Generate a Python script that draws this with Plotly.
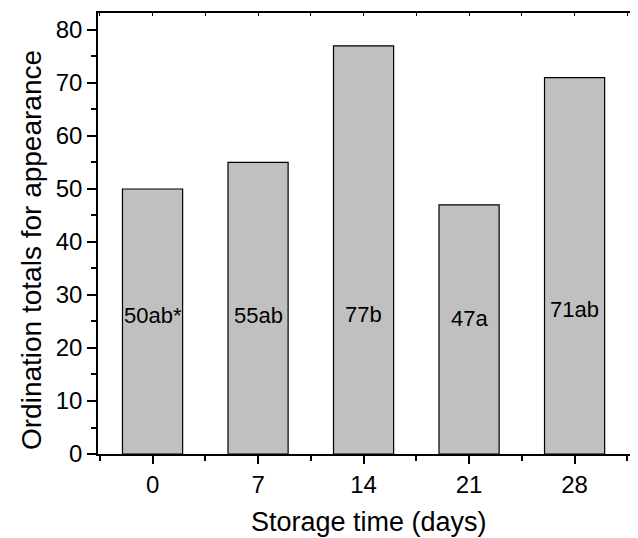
import plotly.graph_objects as go

categories = ["0", "7", "14", "21", "28"]
values = [50, 55, 77, 47, 71]
bar_labels = ["50ab*", "55ab", "77b", "47a", "71ab"]
label_levels = [26.2, 26.2, 26.4, 25.6, 27.2]
y_ticks = [0, 10, 20, 30, 40, 50, 60, 70, 80]

FONT = "Liberation Sans, Arial, sans-serif"
xpos = list(range(len(categories)))

fig = go.Figure()
fig.add_trace(go.Bar(
    x=xpos, y=values, width=0.57,
    marker=dict(color="#C0C0C0", line=dict(color="black", width=1.2)),
    showlegend=False, hoverinfo="skip",
))

for xi, lab, lv in zip(xpos, bar_labels, label_levels):
    fig.add_annotation(x=xi, y=lv, text=lab, showarrow=False,
                       font=dict(family=FONT, size=22, color="black"),
                       xanchor="center", yanchor="middle")

fig.add_annotation(xref="paper", yref="paper", x=-66/540, y=0.4626,
                   text="Ordination totals for appearance", textangle=-90,
                   showarrow=False, font=dict(family=FONT, size=28, color="black"),
                   xanchor="center", yanchor="middle")
fig.add_annotation(xref="paper", yref="paper", x=0.501, y=-68/441,
                   text="Storage time (days)", showarrow=False,
                   font=dict(family=FONT, size=27, color="black"),
                   xanchor="center", yanchor="middle")

xr = [-0.517, 4.601]
half = [i - 0.5 for i in range(len(categories) + 1)]

fig.update_layout(
    width=630, height=530,
    margin=dict(l=90, r=0, t=5, b=84),
    plot_bgcolor="white", paper_bgcolor="white",
    font=dict(family=FONT, color="black"),
    xaxis=dict(
        range=xr, tickmode="array", tickvals=xpos, ticktext=categories,
        ticks="outside", ticklen=8, tickwidth=1.5, tickcolor="black",
        showline=True, linecolor="black", linewidth=1.5,
        showgrid=False, zeroline=False,
        tickfont=dict(family=FONT, size=24, color="black"),
        minor=dict(tickmode="array", tickvals=half, ticks="outside",
                   ticklen=5, tickwidth=1.5, tickcolor="black", showgrid=False),
    ),
    xaxis2=dict(
        overlaying="x", side="top", range=xr, tickmode="array",
        tickvals=[v / 2 for v in range(-1, 10)], ticks="inside", ticklen=3,
        tickwidth=1.2, tickcolor="black", showticklabels=False,
        showline=True, linecolor="black", linewidth=1.5,
        showgrid=False, zeroline=False,
    ),
    yaxis=dict(
        range=[0, 83.2], tickmode="array", tickvals=y_ticks,
        ticks="outside", ticklen=9, tickwidth=1.5, tickcolor="black",
        showline=True, linecolor="black", linewidth=1.5,
        showgrid=False, zeroline=False,
        tickfont=dict(family=FONT, size=24, color="black"),
        minor=dict(tickmode="array", tickvals=[v + 5 for v in y_ticks],
                   ticks="outside", ticklen=5, tickwidth=1.5,
                   tickcolor="black", showgrid=False),
    ),
)

fig.add_trace(go.Scatter(x=[None], y=[None], xaxis="x2", showlegend=False,
                         hoverinfo="skip"))

fig.write_html("out.html")
